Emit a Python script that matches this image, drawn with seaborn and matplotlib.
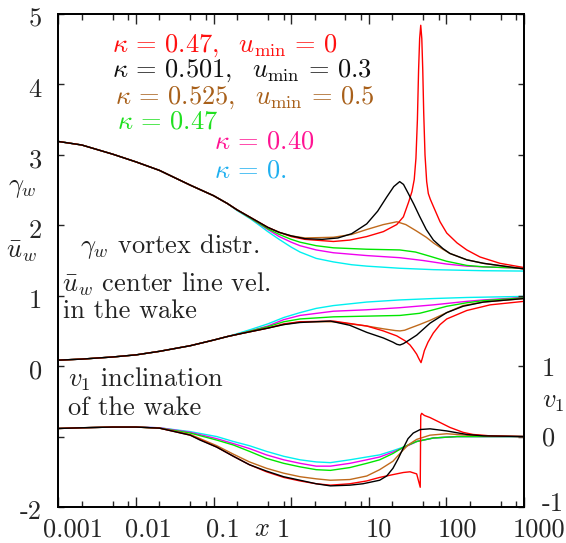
import numpy as np
import matplotlib
matplotlib.use('Agg')
import matplotlib.pyplot as plt
import matplotlib.ticker as mticker
from matplotlib.transforms import ScaledTranslation
import seaborn as sns

# ---- data ------------------------------------------------------------
# gamma_w  (left axis), common start of all six curves
gam_head_x = [0.001, 0.002, 0.005, 0.01, 0.02, 0.05, 0.1, 0.15]
gam_head_y = [3.19, 3.14, 3.01, 2.90, 2.78, 2.57, 2.42, 2.31]

gam_black_x = [0.2, 0.3, 0.5, 0.7, 1.0, 1.5, 2.5, 4, 6, 9.4, 13, 17, 21, 25, 28, 32, 38, 45, 55, 68,
               90, 111, 183, 300, 1000]
gam_black_y = [2.22, 2.11, 1.97, 1.90, 1.85, 1.81, 1.80, 1.82, 1.88, 2.02, 2.20, 2.40, 2.55, 2.62,
               2.58, 2.46, 2.30, 2.13, 1.94, 1.79, 1.67, 1.60, 1.51, 1.46, 1.38]
gam_brown_x = [0.2, 0.3, 0.5, 0.7, 1.0, 1.5, 3.5, 6, 9.4, 15.4, 23, 30, 41, 55, 68, 90, 111, 183, 300, 1000]
gam_brown_y = [2.22, 2.11, 1.97, 1.90, 1.85, 1.82, 1.83, 1.87, 1.94, 2.01, 2.05, 2.01, 1.92, 1.83, 1.75,
               1.66, 1.60, 1.51, 1.46, 1.38]
gam_red_x = [0.2, 0.3, 0.5, 0.7, 1.0, 1.5, 3.5, 5.7, 9.4, 15.4, 22.9, 27.9, 32.6, 36, 38.5, 40.5, 42.3,
             43.8, 45.2, 46.7, 48.2, 49.6, 51, 53, 55.7, 58.5, 62, 67.8, 82.8, 101, 137, 183, 271, 490, 1000]
gam_red_y = [2.22, 2.11, 1.97, 1.90, 1.84, 1.80, 1.77, 1.79, 1.84, 1.91, 2.01, 2.12, 2.33, 2.48, 2.65,
             2.95, 3.50, 4.20, 4.65, 4.84, 4.65, 4.20, 3.60, 3.00, 2.62, 2.45, 2.37, 2.27, 2.05, 1.89,
             1.75, 1.65, 1.55, 1.46, 1.40]
gam_green_x = [0.2, 0.3, 0.5, 0.7, 1.0, 1.3, 2.1, 3.5, 9.4, 25, 40, 61.5, 100, 183, 300, 1000]
gam_green_y = [2.22, 2.10, 1.95, 1.87, 1.80, 1.76, 1.71, 1.68, 1.66, 1.65, 1.62, 1.56, 1.49, 1.43, 1.41, 1.39]
gam_mag_x = [0.2, 0.3, 0.5, 0.7, 1.0, 1.3, 2.1, 3.5, 9.4, 25, 50, 100, 183, 300, 1000]
gam_mag_y = [2.22, 2.10, 1.94, 1.84, 1.76, 1.71, 1.65, 1.61, 1.57, 1.54, 1.50, 1.45, 1.42, 1.41, 1.39]
gam_cyan_x = [0.2, 0.3, 0.4, 0.5, 0.7, 1.0, 1.3, 2.1, 3.5, 6, 9.4, 25, 68, 300, 1000]
gam_cyan_y = [2.21, 2.09, 1.99, 1.91, 1.80, 1.69, 1.62, 1.53, 1.48, 1.44, 1.42, 1.39, 1.37, 1.355, 1.35]

# u_w center line velocity (left axis)
u_head_x = [0.001, 0.002, 0.005, 0.01, 0.02, 0.05, 0.1, 0.15]
u_head_y = [0.085, 0.10, 0.13, 0.16, 0.21, 0.29, 0.37, 0.42]

u_black_x = [0.2, 0.3, 0.5, 0.8, 1.3, 3.2, 5.7, 9.4, 15.4, 20.5, 23, 25.2, 28, 32, 41.4, 61.5, 101,
             164, 300, 1000]
u_black_y = [0.45, 0.49, 0.54, 0.59, 0.62, 0.64, 0.58, 0.48, 0.40, 0.34, 0.31, 0.30, 0.32, 0.36, 0.44,
             0.61, 0.76, 0.85, 0.91, 0.96]
u_brown_x = [0.2, 0.3, 0.5, 0.8, 1.3, 3.5, 9.4, 15.4, 22, 25.2, 29, 34, 45, 61.5, 101, 164, 300, 1000]
u_brown_y = [0.45, 0.49, 0.54, 0.59, 0.63, 0.63, 0.57, 0.53, 0.505, 0.50, 0.51, 0.54, 0.59, 0.65, 0.76,
             0.86, 0.91, 0.96]
u_red_x = [0.2, 0.3, 0.5, 0.8, 1.3, 3.5, 9.4, 15.4, 22.9, 29.3, 34, 37.4, 41.4, 44, 47.1, 49.5, 52,
           57.9, 67.8, 82.8, 101, 183, 365, 1000]
u_red_y = [0.45, 0.49, 0.54, 0.60, 0.63, 0.64, 0.57, 0.50, 0.43, 0.36, 0.30, 0.24, 0.17, 0.11, 0.05,
           0.13, 0.22, 0.34, 0.47, 0.59, 0.67, 0.79, 0.87, 0.92]
u_green_x = [0.2, 0.3, 0.5, 0.8, 1.3, 3.5, 9.4, 25.2, 45, 68, 101, 183, 300, 1000]
u_green_y = [0.45, 0.50, 0.56, 0.63, 0.67, 0.70, 0.71, 0.72, 0.75, 0.80, 0.85, 0.90, 0.93, 0.97]
u_mag_x = [0.2, 0.3, 0.5, 0.8, 1.3, 3.5, 9.4, 25.2, 68, 183, 300, 1000]
u_mag_y = [0.45, 0.50, 0.57, 0.66, 0.72, 0.78, 0.80, 0.83, 0.87, 0.92, 0.94, 0.975]
u_cyan_x = [0.2, 0.3, 0.5, 0.8, 1.3, 2.1, 3.5, 9.4, 25.2, 68, 183, 1000]
u_cyan_y = [0.46, 0.52, 0.60, 0.69, 0.76, 0.82, 0.86, 0.91, 0.94, 0.96, 0.975, 0.99]

# v_1 inclination of the wake (right axis)
v_head_x = [0.001, 0.002, 0.005, 0.01]
v_head_y = [0.115, 0.125, 0.135, 0.135]

v_black_x = [0.02, 0.05, 0.067, 0.11, 0.18, 0.29, 0.48, 0.8, 1.3, 2.1, 3.2, 5.7, 8.4, 13.8, 17, 20.5,
             24, 27.9, 32, 37.4, 46, 61.5, 101, 183, 300, 1000]
v_black_y = [0.12, 0.02, -0.05, -0.15, -0.28, -0.40, -0.49, -0.57, -0.62, -0.67, -0.70, -0.69, -0.67,
             -0.62, -0.56, -0.45, -0.31, -0.16, -0.03, 0.05, 0.10, 0.11, 0.08, 0.03, 0.01, 0.0]
v_brown_x = [0.02, 0.05, 0.11, 0.18, 0.29, 0.48, 0.8, 1.3, 2.1, 3.2, 5.7, 9.4, 13.8, 20.5, 25.2, 32,
             41.4, 61.5, 101, 183, 1000]
v_brown_y = [0.12, 0.03, -0.13, -0.25, -0.36, -0.45, -0.52, -0.57, -0.60, -0.62, -0.61, -0.56, -0.47,
             -0.35, -0.24, -0.12, -0.04, 0.02, 0.04, 0.02, 0.0]
v_red_x = [0.02, 0.05, 0.11, 0.18, 0.29, 0.48, 0.8, 1.3, 2.1, 3.2, 5.7, 9.4, 13.8, 20.5, 27.9, 34,
           41.4, 46, 46.7, 48, 52, 61.5, 82.8, 111, 164, 220, 365, 1000]
v_red_y = [0.12, 0.02, -0.15, -0.28, -0.40, -0.50, -0.58, -0.63, -0.67, -0.69, -0.67, -0.63, -0.58,
           -0.54, -0.51, -0.50, -0.53, -0.72, 0.30, 0.33, 0.30, 0.27, 0.20, 0.13, 0.06, 0.03, 0.01, 0.0]
v_green_x = [0.02, 0.05, 0.11, 0.18, 0.29, 0.48, 0.8, 1.3, 2.1, 3.2, 5.7, 9.4, 13.8, 20.5, 27.9,
             41.4, 68, 137, 1000]
v_green_y = [0.12, 0.05, -0.05, -0.12, -0.21, -0.31, -0.38, -0.43, -0.47, -0.48, -0.44, -0.38,
             -0.33, -0.24, -0.15, -0.07, -0.02, 0.0, 0.0]
v_mag_x = [0.02, 0.05, 0.11, 0.18, 0.29, 0.48, 0.8, 1.3, 2.1, 3.2, 5.7, 9.4, 13.8, 20.5, 27.9,
           41.4, 68, 137, 1000]
v_mag_y = [0.125, 0.06, -0.03, -0.10, -0.17, -0.26, -0.33, -0.38, -0.42, -0.42, -0.38, -0.33,
           -0.29, -0.22, -0.16, -0.07, -0.02, 0.0, 0.0]
v_cyan_x = [0.02, 0.05, 0.11, 0.18, 0.29, 0.48, 0.8, 1.3, 2.1, 3.2, 5.7, 9.4, 13.8, 20.5, 27.9,
            41.4, 68, 137, 1000]
v_cyan_y = [0.125, 0.07, 0.0, -0.07, -0.13, -0.21, -0.28, -0.33, -0.36, -0.37, -0.33, -0.29,
            -0.26, -0.20, -0.15, -0.07, -0.02, 0.0, 0.0]

x_ticks = [0.001, 0.01, 0.1, 1, 10, 100, 1000]
x_labels = ['0.001', '0.01', '0.1', '1', '10', '100', '1000']
y_ticks = [-2, -1, 0, 1, 2, 3, 4, 5]
y_labels = ['-2', '', '0', '1', '2', '3', '4', '5']
v_ticks = [-1, 0, 1, 2, 3, 4, 5, 6]
v_labels = ['-1', '0', '1', '', '', '', '', '']

kappa_labels = [r'$\kappa\,=\,0.47,\ \ u_{\rm min}\,=\,0$',
                r'$\kappa\,=\,0.501,\ \ u_{\rm min}\,=\,0.3$',
                r'$\kappa\,=\,0.525,\ \ u_{\rm min}\,=\,0.5$',
                r'$\kappa\,=\,0.47$',
                r'$\kappa\,=\,0.40$',
                r'$\kappa\,=\,0.$']

# ---- style -----------------------------------------------------------
sns.set_theme(style='ticks')
FS = 19
plt.rcParams.update({
    'font.family': ['cmr10', 'DejaVu Serif'],
    'mathtext.fontset': 'cm',
    'axes.formatter.use_mathtext': True,
    'font.size': FS,
    'axes.linewidth': 1.3,
    'axes.edgecolor': 'black',
})

RED, BLACK, BROWN = '#ff0000', '#000000', '#c06a1c'
GREEN, MAG, CYAN = '#00e600', '#f000f0', '#00f0f0'
text_cols = ['#ff1010', '#111111', '#a8601a', '#20e020', '#ff1493', '#20b0f0']

fig = plt.figure(figsize=(5.66, 5.43), dpi=100)
ax = fig.add_axes([58.4 / 566, 36 / 543, (524 - 58.4) / 566, 493 / 543])
ax2 = ax.twinx()

curves = [
    (CYAN, gam_cyan_x, gam_cyan_y, u_cyan_x, u_cyan_y, v_cyan_x, v_cyan_y),
    (MAG, gam_mag_x, gam_mag_y, u_mag_x, u_mag_y, v_mag_x, v_mag_y),
    (GREEN, gam_green_x, gam_green_y, u_green_x, u_green_y, v_green_x, v_green_y),
    (BROWN, gam_brown_x, gam_brown_y, u_brown_x, u_brown_y, v_brown_x, v_brown_y),
    (RED, gam_red_x, gam_red_y, u_red_x, u_red_y, v_red_x, v_red_y),
    (BLACK, gam_black_x, gam_black_y, u_black_x, u_black_y, v_black_x, v_black_y),
]

for col, gx, gy, ux, uy, vx, vy in curves:
    sns.lineplot(x=gam_head_x + gx, y=gam_head_y + gy, ax=ax, color=col, lw=1.0, sort=False)
    sns.lineplot(x=u_head_x + ux, y=u_head_y + uy, ax=ax, color=col, lw=1.0, sort=False)
    sns.lineplot(x=v_head_x + vx, y=v_head_y + vy, ax=ax2, color=col, lw=1.0, sort=False)

ax.set_xscale('log')
ax.set_xlim(0.001, 1000)
ax.set_ylim(-2, 5)
ax2.set_ylim(-1, 6)
ax.set_xlabel('')
ax.set_ylabel('')
ax2.set_ylabel('')

ax.set_xticks(x_ticks)
ax.set_xticklabels(x_labels)
ax.xaxis.set_minor_locator(mticker.LogLocator(base=10, subs=[2, 5, 8], numticks=20))
ax.xaxis.set_minor_formatter(mticker.NullFormatter())
ax.set_yticks(y_ticks)
ax.set_yticklabels(y_labels)
ax2.set_yticks(v_ticks)
ax2.set_yticklabels(v_labels)

ax.tick_params(axis='x', which='major', direction='in', length=7, width=1, top=True, pad=8, labelsize=FS)
ax.tick_params(axis='x', which='minor', direction='in', length=4.3, width=1, top=True)
ax.tick_params(axis='y', which='major', direction='in', length=4.5, width=1, pad=12, labelsize=FS)
ax.tick_params(axis='y', which='minor', left=False)
ax2.tick_params(axis='y', which='major', direction='in', length=4.5, width=1, pad=13, labelsize=FS)
ax2.tick_params(axis='y', which='minor', right=False)

x_shift = [15, 12, 9, -8, 10, 11, 15]
for lab, dx in zip(ax.get_xticklabels(), x_shift):
    lab.set_transform(lab.get_transform() + ScaledTranslation(dx / 100, 0, fig.dpi_scale_trans))
for lab in ax.get_yticklabels():
    lab.set_transform(lab.get_transform() + ScaledTranslation(0, -3 / 100, fig.dpi_scale_trans))
v_lab0 = ax2.get_yticklabels()[0]
v_lab0.set_transform(v_lab0.get_transform() + ScaledTranslation(0, 5 / 100, fig.dpi_scale_trans))

# kappa labels
k_pos = [(0.115, 0.923), (0.115, 0.873), (0.122, 0.817), (0.126, 0.768), (0.334, 0.728), (0.334, 0.669)]
for (fx, fy), txt, c in zip(k_pos, kappa_labels, text_cols):
    ax.text(fx, fy, txt, color=c, fontsize=FS, transform=ax.transAxes, va='baseline', ha='left')

# descriptive labels inside the frame
tc = '#222222'
ax.text(0.046, 0.516, r'$\gamma_w$ vortex distr.', transform=ax.transAxes, color=tc, va='baseline')
ax.text(0.008, 0.438, r'$\bar{u}_w$ center line vel.', transform=ax.transAxes, color=tc, va='baseline')
ax.text(0.010, 0.383, 'in the wake', transform=ax.transAxes, color=tc, va='baseline')
ax.text(0.021, 0.245, r'$v_1$ inclination', transform=ax.transAxes, color=tc, va='baseline')
ax.text(0.021, 0.187, 'of the wake', transform=ax.transAxes, color=tc, va='baseline')

# axis names
fig.text(22 / 566, 1 - 188 / 543, r'$\gamma_w$', ha='center', va='center', fontsize=FS, color=tc)
fig.text(22 / 566, 1 - 252 / 543, r'$\bar{u}_w$', ha='center', va='center', fontsize=FS, color=tc)
fig.text(553 / 566, 1 - 402 / 543, r'$v_1$', ha='center', va='center', fontsize=FS, color=tc)
fig.text(262 / 566, 1 - 529 / 543, r'$x$', ha='center', va='center', fontsize=FS, color=tc)

fig.savefig('out.png', dpi=100)
